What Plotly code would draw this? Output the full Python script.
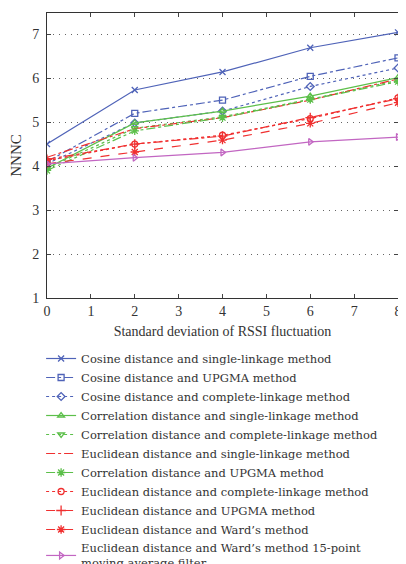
import plotly.graph_objects as go

x_vals = [0, 2, 4, 6, 8]

names = [
    "Cosine distance and single-linkage method",
    "Cosine distance and UPGMA method",
    "Cosine distance and complete-linkage method",
    "Correlation distance and single-linkage method",
    "Correlation distance and complete-linkage method",
    "Euclidean distance and single-linkage method",
    "Correlation distance and UPGMA method",
    "Euclidean distance and complete-linkage method",
    "Euclidean distance and UPGMA method",
    "Euclidean distance and Ward\u2019s method",
    "Euclidean distance and Ward\u2019s method 15-point<br>moving average filter",
]

cos_single = [4.50, 5.73, 6.14, 6.69, 7.04]
cos_upgma = [4.10, 5.20, 5.50, 6.04, 6.46]
cos_complete = [4.05, 4.98, 5.25, 5.81, 6.23]
corr_single = [3.95, 4.98, 5.25, 5.59, 6.01]
corr_complete = [3.95, 4.86, 5.12, 5.52, 5.95]
euc_single = [4.20, 4.85, 5.10, 5.50, 5.98]
corr_upgma = [3.90, 4.80, 5.10, 5.51, 5.92]
euc_complete = [4.12, 4.50, 4.70, 5.08, 5.55]
euc_upgma = [4.15, 4.50, 4.68, 5.10, 5.53]
euc_ward = [4.05, 4.32, 4.59, 4.97, 5.44]
euc_ward_ma = [4.05, 4.19, 4.31, 4.55, 4.66]

series = [cos_single, cos_upgma, cos_complete, corr_single, corr_complete,
          euc_single, corr_upgma, euc_complete, euc_upgma, euc_ward, euc_ward_ma]

BLUE = "#4f63b8"
GREEN = "#5cbf4a"
RED = "#f03030"
MAG = "#c266c2"

styles = [
    (BLUE, "solid", "x-thin-open", 6),
    (BLUE, "dashdot", "square-open", 6),
    (BLUE, "dot", "diamond-open", 6),
    (GREEN, "solid", "triangle-up-open", 6),
    (GREEN, "dot", "triangle-down-open", 6),
    (RED, "dashdot", None, 6),
    (GREEN, "dashdot", "asterisk-open", 7),
    (RED, "dot", "circle-open", 6),
    (RED, "dashdot", "cross-thin-open", 7),
    (RED, "dash", "asterisk-open", 7),
    (MAG, "solid", "triangle-right-open", 6),
]

fig = go.Figure()
for name, ys, (col, dash, sym, ms) in zip(names, series, styles):
    if sym is None:
        fig.add_trace(go.Scatter(x=x_vals, y=ys, name=name, mode="lines",
                                 line=dict(color=col, dash=dash, width=1.2)))
    else:
        fig.add_trace(go.Scatter(x=x_vals, y=ys, name=name, mode="lines+markers",
                                 line=dict(color=col, dash=dash, width=1.2),
                                 marker=dict(symbol=sym, size=ms, color=col,
                                             line=dict(color=col, width=1.3))))

serif = "Liberation Serif, DejaVu Serif, serif"
legend_font = "DejaVu Serif, Liberation Serif, serif"

# page body has an 8px margin; the figure is laid out in shifted coordinates
W, H = 398, 590
L, T, B, R = 37, 5, 300, 4
plot_w = W - L - R
plot_h = H - T - B

fig.update_layout(
    width=W, height=H,
    margin=dict(l=L, r=R, t=T, b=B),
    paper_bgcolor="white", plot_bgcolor="white",
    font=dict(family=serif, size=14, color="#333333"),
    showlegend=True,
    legend=dict(x=(31 - L) / plot_w, y=(T + plot_h - 336) / plot_h,
                xanchor="left", yanchor="top",
                font=dict(size=11.5, family=legend_font, color="#333333"),
                bgcolor="rgba(0,0,0,0)", itemwidth=30, tracegroupgap=0),
    xaxis=dict(range=[0, 8], tickmode="linear", dtick=1, ticks="inside", ticklen=4,
               showline=True, linecolor="#333333", linewidth=1, mirror="ticks",
               showgrid=False, zeroline=False,
               title=dict(text="Standard deviation of RSSI fluctuation", standoff=8,
                          font=dict(size=14)),
               tickfont=dict(size=14)),
    yaxis=dict(range=[1, 7.48], tickmode="linear", tick0=1, dtick=1, ticks="inside", ticklen=4,
               showline=True, linecolor="#333333", linewidth=1, mirror="ticks",
               showgrid=True, gridcolor="#666666", griddash="1px,5px", gridwidth=1,
               zeroline=False, ticklabelstandoff=4,
               title=dict(text="NNNC", standoff=10, font=dict(size=15)),
               tickfont=dict(size=14)),
)

fig.write_html("out.html")
